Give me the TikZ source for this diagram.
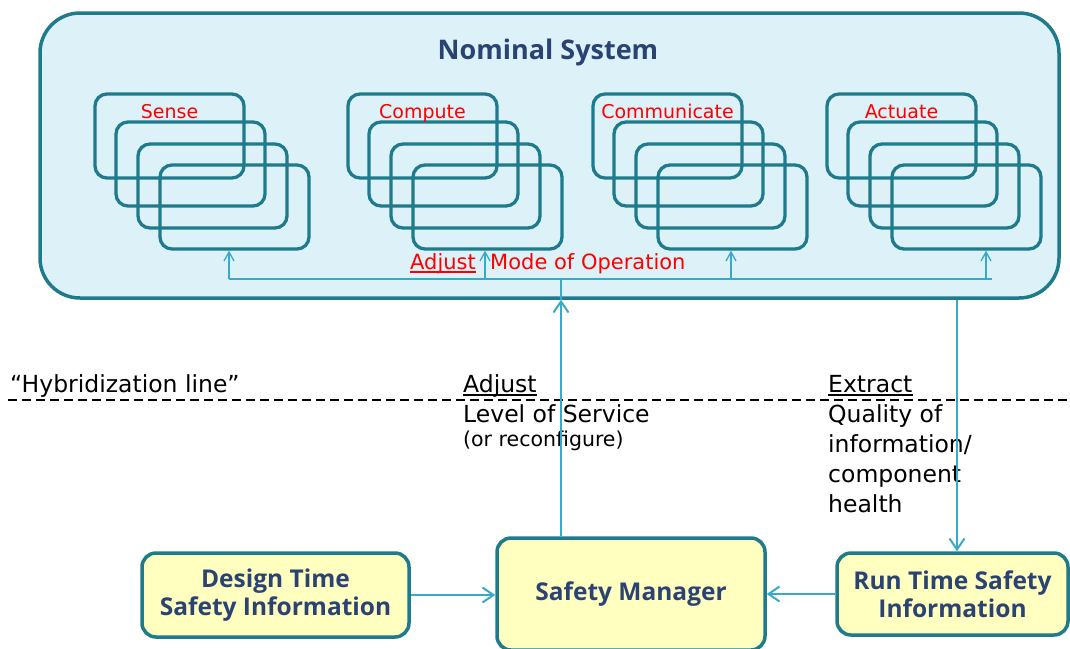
\documentclass[tikz,border=0pt]{standalone}
\usepackage{fontspec}
\setmainfont{DejaVu Sans}
\newfontfamily\boxfont{Open Sans}
\usetikzlibrary{arrows.meta}

\definecolor{tealline}{HTML}{1F7A8C}
\definecolor{sysfill}{HTML}{DCF2F8}
\definecolor{connblue}{HTML}{38A9C7}
\definecolor{mgrfill}{HTML}{FFFFC0}
\definecolor{navytext}{HTML}{2A4373}
\definecolor{labred}{HTML}{FF0000}

\begin{document}
\begin{tikzpicture}[x=1pt,y=-1pt,
  sysbox/.style={draw=tealline, fill=sysfill, line width=3.5pt, rounded corners=40pt, inner sep=0pt},
  titletext/.style={inner sep=0pt, text=navytext, font=\boxfont\bfseries\fontsize{27}{27}\selectfont},
  unitbox/.style={draw=tealline, line width=3.3pt, rounded corners=12pt, minimum width=149pt, minimum height=84pt, inner sep=0pt},
  unitlabel/.style={inner sep=0pt, anchor=base, text=labred, font=\fontsize{19}{19}\selectfont},
  modelabel/.style={inner sep=0pt, anchor=base west, text=labred, font=\fontsize{21}{21}\selectfont},
  infobox/.style={draw=tealline, fill=mgrfill, line width=3.5pt, rounded corners=14pt, inner sep=0pt, align=center, text=navytext, font=\boxfont\bfseries\fontsize{24.5}{28}\selectfont},
  notetext/.style={inner sep=0pt, anchor=base west, font=\fontsize{23.5}{30}\selectfont},
  smallnote/.style={inner sep=0pt, anchor=base west, font=\fontsize{20.5}{24}\selectfont},
  flowarrow/.style={draw=connblue, line width=2pt, -{Straight Barb[length=11pt,width=15pt]}},
  feedarrow/.style={draw=connblue, line width=1.3pt, -{Straight Barb[length=9pt,width=10pt]}},
  busline/.style={draw=connblue, line width=2pt},
  hybline/.style={draw=black, line width=2pt, dash pattern=on 9pt off 5pt},
  underlined/.style={line width=1.6pt},
]
\useasboundingbox (0,0) rectangle (1070,648);

% nominal system container
\node[sysbox, minimum width=1019pt, minimum height=285pt] (nominal) at (549.5,155.5) {};
\node[titletext, anchor=base] (title) at (548,59) {Nominal System};

% stacked component units
\foreach \g/\x/\lab in {sense/95/Sense, compute/348/Compute, comm/593/Communicate, act/827/Actuate}{
  \foreach \k/\dx/\dy in {1/0/0, 2/21/28, 3/43/50, 4/65/71}
    \node[unitbox] (\g\k) at (\x+74.5+\dx, 136+\dy) {};
  \node[unitlabel] (\g-label) at (\x+74.5, 118) {\lab};
}

% mode-of-operation bus
\coordinate (bus-w) at (229,279);
\coordinate (bus-e) at (992,279);
\coordinate (bus-c) at (561,279);
\draw[busline] (bus-w) -- (bus-e);
\draw[busline] (bus-c) -- (bus-c |- nominal.south);
\foreach \g/\bx in {sense/229, compute/485, comm/731, act/986}{
  \coordinate (feed-\g) at (\bx,279);
  \draw[feedarrow] (feed-\g) -- (feed-\g |- \g4.south);
}
\node[modelabel] (mode-adj) at (410,269) {Adjust};
\node[modelabel] (mode-op) at (490,269) {Mode of Operation};
\draw[labred, underlined] ([yshift=-3pt]mode-adj.base west) -- ([yshift=-3pt]mode-adj.base east);

% hybridization line
\coordinate (hyb-w) at (8,400);
\coordinate (hyb-e) at (1070,400);
\draw[hybline] (hyb-w) -- (hyb-e);
\node[notetext] (hyb-label) at (10,392) {“Hybridization line”};

\node[notetext] (adjust-head) at (463,392) {Adjust};
\draw[black, underlined] ([yshift=-3pt]adjust-head.base west) -- ([yshift=-3pt]adjust-head.base east);
\node[notetext] (service) at (463,422) {Level of Service};
\node[smallnote] (reconf) at (463,446) {(or reconfigure)};

\node[notetext] (extract-head) at (828,392) {Extract};
\draw[black, underlined] ([yshift=-3pt]extract-head.base west) -- ([yshift=-3pt]extract-head.base east);
\node[notetext] (quality1) at (828,422) {Quality of};
\node[notetext] (quality2) at (828,452) {information/};
\node[notetext] (quality3) at (828,482) {component};
\node[notetext] (quality4) at (828,512) {health};

% safety side
\node[infobox, minimum width=267pt, minimum height=84pt] (design) at (275.5,595) {Design Time\\Safety Information};
\node[infobox, minimum width=268pt, minimum height=112pt] (mgr) at (631,594) {Safety Manager};
\node[infobox, minimum width=231pt, minimum height=82pt] (runtime) at (952.5,594) {Run Time Safety\\Information};

\draw[flowarrow] (design.east) -- (design.east -| mgr.west);
\draw[flowarrow] (runtime.west) -- (runtime.west -| mgr.east);

\coordinate (mgr-out) at (mgr.north -| bus-c);
\draw[flowarrow] (mgr-out) -- (mgr-out |- nominal.south);
\coordinate (tap) at (957,298);
\draw[flowarrow] (tap |- nominal.south) -- (tap |- runtime.north);
\end{tikzpicture}
\end{document}
